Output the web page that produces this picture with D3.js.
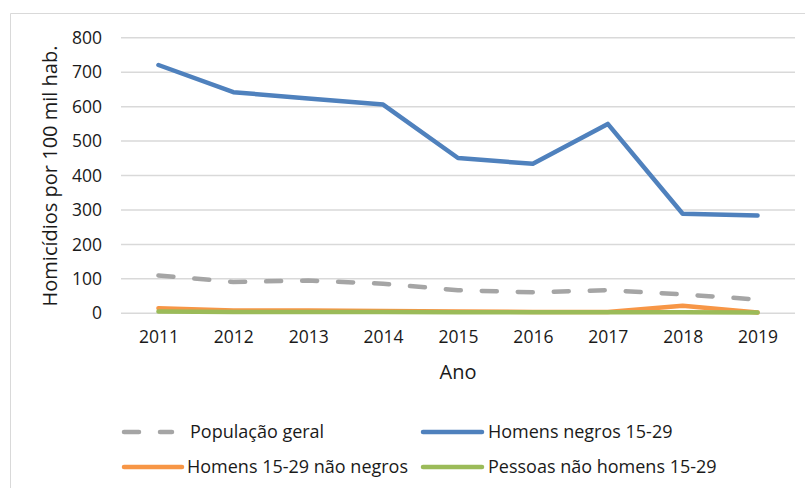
<!DOCTYPE html>
<html>
<head>
<meta charset="utf-8">
<script src="https://cdn.jsdelivr.net/npm/d3@7"></script>
<style>
  body { margin: 0; background: #fff; }
  svg { display: block; font-family: "Open Sans", sans-serif; }
</style>
</head>
<body>
<svg id="chart" width="805" height="488"></svg>
<script>
// data
var anos = ["2011", "2012", "2013", "2014", "2015", "2016", "2017", "2018", "2019"];
var populacaoGeral = [110, 91, 95, 86, 67, 61, 67, 55, 40];
var homensNegros = [721, 642, 624, 606, 451, 434, 550, 289, 284];
var homensNaoNegros = [15, 8, 8, 7, 5, 4, 4, 22, 2];
var pessoasNaoHomens = [5, 4, 4, 4, 3, 3, 3, 3, 2];
var yTicks = [0, 100, 200, 300, 400, 500, 600, 700, 800];

var series = [
  { name: "População geral", values: populacaoGeral, color: "#a5a5a5", dash: "15,21" },
  { name: "Homens negros 15-29", values: homensNegros, color: "#4f81bd", dash: null },
  { name: "Homens 15-29 não negros", values: homensNaoNegros, color: "#f79646", dash: null },
  { name: "Pessoas não homens 15-29", values: pessoasNaoHomens, color: "#9bbb59", dash: null }
];

var svg = d3.select("#chart");
var margin = { left: 121, right: 10, top: 37.8, bottom: 174.7 };
var width = 805 - margin.left - margin.right,
  height = 488 - margin.top - margin.bottom;

// chart frame
svg.append("path")
  .attr("d", "M10.5,488 V13.5 H805")
  .attr("fill", "none")
  .attr("stroke", "#d9d9d9")
  .attr("stroke-width", 1);

var g = svg.append("g")
  .attr("transform", "translate(" + margin.left + "," + margin.top + ")");

var x = d3.scalePoint().domain(anos).range([0, width]).padding(0.5);
var y = d3.scaleLinear().domain([0, 800]).range([height, 0]);

// gridlines
g.append("g")
  .attr("class", "grid")
  .selectAll("line")
  .data(yTicks)
  .enter().append("line")
  .attr("x1", 0)
  .attr("x2", width)
  .attr("y1", function(d) { return y(d); })
  .attr("y2", function(d) { return y(d); })
  .attr("stroke", "#d9d9d9")
  .attr("stroke-width", 1.5);

var yAxis = g.append("g")
  .call(d3.axisLeft(y).tickValues(yTicks).tickSize(0).tickPadding(19));
yAxis.select(".domain").remove();
yAxis.selectAll("text")
  .attr("font-size", "17.5px")
  .attr("font-family", "Open Sans, sans-serif")
  .attr("fill", "#1a1a1a");

var xAxis = g.append("g")
  .attr("transform", "translate(0," + height + ")")
  .call(d3.axisBottom(x).tickSize(0).tickPadding(17));
xAxis.select(".domain").remove();
xAxis.selectAll("text")
  .attr("font-size", "17.5px")
  .attr("font-family", "Open Sans, sans-serif")
  .attr("fill", "#1a1a1a");

// axis titles
svg.append("text")
  .attr("x", 458)
  .attr("y", 379)
  .attr("text-anchor", "middle")
  .attr("font-size", "20px")
  .attr("fill", "#1a1a1a")
  .text("Ano");

svg.append("text")
  .attr("transform", "translate(57,176) rotate(-90)")
  .attr("text-anchor", "middle")
  .attr("font-size", "20px")
  .attr("fill", "#1a1a1a")
  .text("Homicídios por 100 mil hab.");

var line = d3.line()
  .x(function(d, i) { return x(anos[i]); })
  .y(function(d) { return y(d); });

// draw the blue line last so it stays on top
var drawOrder = [series[0], series[2], series[3], series[1]];
g.append("g")
  .selectAll("path")
  .data(drawOrder)
  .enter().append("path")
  .attr("d", function(d) { return line(d.values); })
  .attr("fill", "none")
  .attr("stroke", function(d) { return d.color; })
  .attr("stroke-width", 4.5)
  .attr("stroke-linecap", "round")
  .attr("stroke-linejoin", "round")
  .attr("stroke-dasharray", function(d) { return d.dash; });

// legend
var legendPos = [
  { x: 124, y: 432, len: 48, tx: 66 },
  { x: 423, y: 432, len: 59, tx: 65 },
  { x: 124, y: 467, len: 58, tx: 63 },
  { x: 423, y: 467, len: 59, tx: 65 }
];

var legend = svg.append("g")
  .selectAll("g")
  .data(series)
  .enter().append("g")
  .attr("transform", function(d, i) {
    return "translate(" + legendPos[i].x + "," + legendPos[i].y + ")";
  });

legend.append("line")
  .attr("x1", 0)
  .attr("x2", function(d, i) { return legendPos[i].len; })
  .attr("y1", 0)
  .attr("y2", 0)
  .attr("stroke", function(d) { return d.color; })
  .attr("stroke-width", 4.5)
  .attr("stroke-linecap", "round")
  .attr("stroke-dasharray", function(d) { return d.dash; });

legend.append("text")
  .attr("x", function(d, i) { return legendPos[i].tx; })
  .attr("y", 6)
  .attr("font-size", "18px")
  .attr("fill", "#1a1a1a")
  .text(function(d) { return d.name; });
</script>
</body>
</html>
